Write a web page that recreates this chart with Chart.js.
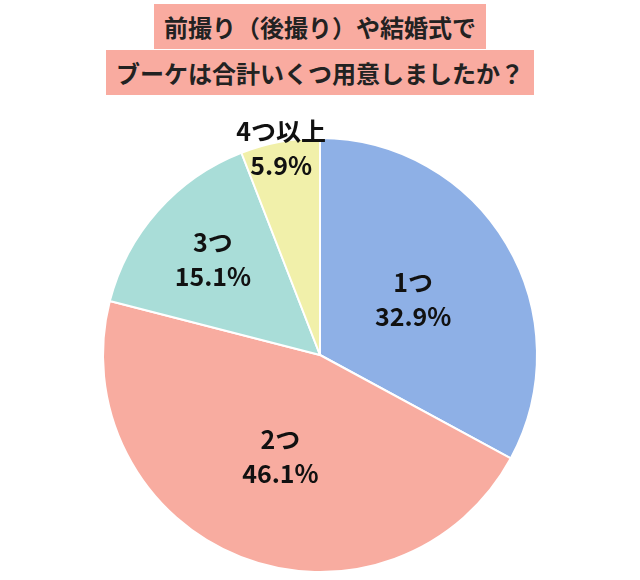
<!DOCTYPE html>
<html>
<head>
<meta charset="utf-8">
<script src="https://cdn.jsdelivr.net/npm/chart.js@4"></script>
<style>
  body { margin: 0; width: 640px; height: 580px; background: #fff; overflow: hidden;
         font-family: "Noto Sans CJK JP", sans-serif; }
  .title { position: absolute; left: 0; width: 640px; text-align: center; z-index: 2; }
  .title span { background: #f9aba0; font-weight: bold; font-size: 24px; color: #222;
                padding: 5px 10px; line-height: 40px; }
  #wrap { position: absolute; left: 0; top: 100px; width: 640px; height: 480px; }
</style>
</head>
<body>
<div class="title" style="top:7px"><span>前撮り（後撮り）や結婚式で</span></div>
<div class="title" style="top:53px"><span>ブーケは合計いくつ用意しましたか？</span></div>
<div id="wrap"><canvas id="pie"></canvas></div>
<script>
// data
const labels = ['1つ', '2つ', '3つ', '4つ以上'];
const values = [32.9, 46.1, 15.1, 5.9];
const colors = ['#8eb0e6', '#f8aca0', '#a9ddd8', '#f1f0aa'];

// label radius as a fraction of the pie radius, per slice
const labelRadius = [0.5, 0.5, 0.66, 0.97];

const sliceLabels = {
  id: 'sliceLabels',
  afterDatasetsDraw(chart) {
    const ctx = chart.ctx;
    const meta = chart.getDatasetMeta(0);
    ctx.save();
    ctx.fillStyle = '#111';
    ctx.textAlign = 'center';
    ctx.textBaseline = 'middle';
    ctx.font = 'bold 25px "Noto Sans CJK JP", sans-serif';
    meta.data.forEach(function(arc, i) {
      const mid = (arc.startAngle + arc.endAngle) / 2;
      const r = arc.outerRadius * labelRadius[i];
      const x = arc.x + Math.cos(mid) * r;
      const y = arc.y + Math.sin(mid) * r;
      ctx.fillText(labels[i], x, y - 17);
      ctx.fillText(values[i].toFixed(1) + '%', x, y + 17);
    });
    ctx.restore();
  }
};

new Chart(document.getElementById('pie'), {
  type: 'pie',
  data: {
    labels: labels,
    datasets: [{
      data: values,
      backgroundColor: colors,
      borderColor: '#fff',
      borderWidth: 2
    }]
  },
  options: {
    responsive: true,
    maintainAspectRatio: false,
    animation: false,
    layout: { padding: { top: 37, bottom: 7 } },
    plugins: { legend: { display: false }, tooltip: { enabled: false } }
  },
  plugins: [sliceLabels]
});
</script>
</body>
</html>
